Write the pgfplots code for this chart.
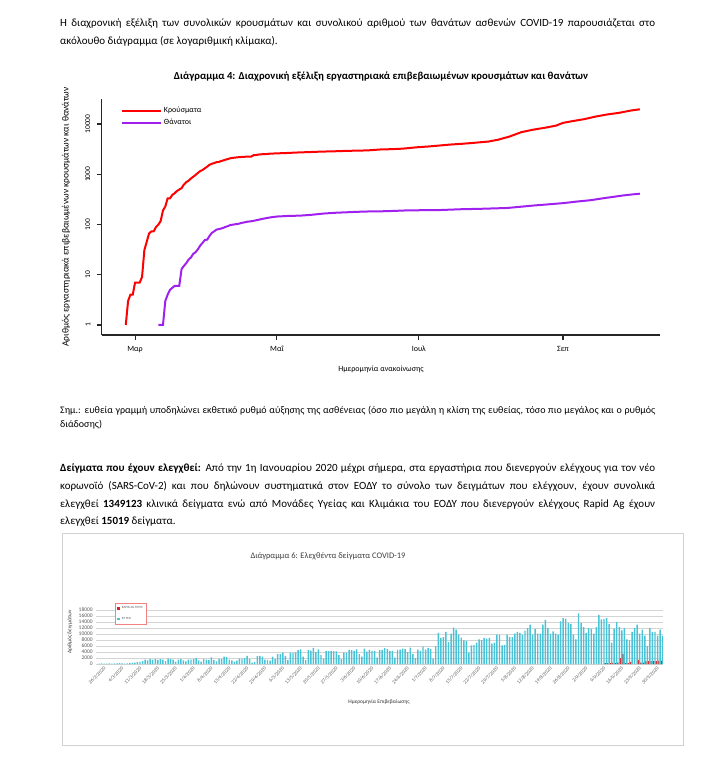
\documentclass[border=0pt]{standalone}
\usepackage{fontspec}
\setmainfont{Carlito}
\usepackage{pgfplots}
\pgfplotsset{compat=1.18}
\definecolor{rpurple}{HTML}{A020F0}
\definecolor{rred}{HTML}{FF0000}
\definecolor{xlcyan}{RGB}{75,195,215}
\definecolor{xlred}{RGB}{225,30,30}
\definecolor{xltext}{HTML}{595959}
\definecolor{legbord}{RGB}{240,130,130}
\begin{document}
\begin{tikzpicture}
\useasboundingbox (0pt,0pt) rectangle (717pt,-761pt);
% paragraph 1
\node[anchor=base west, inner sep=0] at (60pt,-26pt) {\fontsize{11}{13}\selectfont\makebox[595pt][s]{Η διαχρονική εξέλιξη των συνολικών κρουσμάτων και συνολικού αριθμού των θανάτων ασθενών COVID-19 παρουσιάζεται στο}};
\node[anchor=base west, inner sep=0] at (60pt,-44pt) {\fontsize{11}{13}\selectfont ακόλουθο διάγραμμα (σε λογαριθμική κλίμακα).};
% chart 1 title
\node[anchor=center, inner sep=0] at (381pt,-77pt) {\fontsize{10.7}{12}\selectfont\bfseries Διάγραμμα 4: Διαχρονική εξέλιξη εργαστηριακά επιβεβαιωμένων κρουσμάτων και θανάτων};
% chart 1
\begin{axis}[at={(101.8pt,-335pt)}, anchor=south west, width=558pt, height=236pt, scale only axis,
  xmin=-14.3, xmax=225.6, ymode=log, ymin=0.632, ymax=31400,
  axis x line*=bottom, axis y line*=left,
  axis line style={black!85, line width=1.2pt},
  tick style={black!85, line width=1.1pt}, tick align=outside, major tick length=5pt,
  minor tick num=0, yminorticks=false,
  xtick={0,61,122,184}, xticklabels={Μαρ,Μαΐ,Ιουλ,Σεπ},
  ytick={1,10,100,1000,10000}, yticklabels={1,10,100,1000,10000},
  yticklabel style={rotate=90, anchor=south, font=\fontsize{7.5}{9}\selectfont},
  yticklabel shift=3pt, xticklabel shift=2.5pt,
  xticklabel style={font=\fontsize{8}{9}\selectfont},
  legend style={at={(0.034,0.975)}, anchor=north west, draw=none, fill=none, font=\fontsize{8}{9}\selectfont, row sep=1pt, inner sep=0pt},
  legend cell align=left,
  legend image code/.code={\draw[#1, line width=2pt] (0pt,0pt) -- (39pt,0pt);},
]
\addplot[rred, line width=2pt, no marks] coordinates {
(-4,1)(-3,3)(-2,4)(-1,4)(0,7)(1,7)(2,7)(3,9)(4,31)(5,45)(6,66)(7,73)(8,73)(9,89)(10,99)(11,117)(12,190)(13,228)(14,331)(15,331)(16,387)(17,418)(18,464)(19,495)(20,530)(21,624)(22,695)(23,743)(24,821)(25,892)(26,966)(27,1061)(28,1156)(29,1212)(30,1314)(31,1415)(32,1544)(33,1613)(34,1673)(35,1735)(36,1755)(37,1832)(38,1884)(39,1955)(40,2011)(41,2081)(42,2114)(43,2145)(44,2170)(45,2192)(46,2207)(47,2224)(48,2235)(49,2235)(50,2245)(51,2401)(52,2408)(53,2463)(54,2490)(55,2506)(56,2517)(57,2534)(58,2566)(59,2576)(60,2591)(65,2642)(70,2710)(75,2760)(80,2819)(85,2853)(91,2917)(100,2980)(106,3121)(110,3148)(115,3227)(121,3432)(126,3562)(131,3732)(136,3910)(141,4048)(146,4227)(152,4477)(156,4855)(161,5623)(166,6858)(171,7684)(176,8381)(181,9280)(184,10524)(188,11386)(193,12452)(198,14041)(203,15481)(208,16627)(213,18475)(217,19613)
};
\addlegendentry{Κρούσματα}
\addplot[rpurple, line width=2pt, no marks] coordinates {
(10,1)(12,1)(13,3)(14,4)(15,5)(17,6)(19,6)(20,13)(21,15)(22,17)(23,20)(24,22)(25,26)(26,28)(27,32)(28,38)(29,43)(30,49)(31,50)(32,59)(33,68)(34,73)(35,79)(36,81)(37,83)(38,86)(39,90)(40,93)(41,98)(42,99)(43,101)(44,102)(45,105)(46,108)(47,110)(48,113)(50,116)(52,121)(55,130)(58,138)(61,144)(66,148)(71,150)(76,156)(81,165)(86,171)(91,175)(96,179)(101,182)(106,183)(111,186)(116,190)(122,192)(130,193)(140,201)(150,206)(160,213)(166,226)(172,240)(177,250)(184,266)(190,286)(196,305)(201,331)(206,357)(210,379)(213,393)(217,410)
};
\addlegendentry{Θάνατοι}
\end{axis}
\node[anchor=center, inner sep=0] at (381pt,-369pt) {\fontsize{8}{10}\selectfont Ημερομηνία ανακοίνωσης};
\node[anchor=center, inner sep=0, rotate=90] at (66pt,-217pt) {\fontsize{9.5}{11}\selectfont Αριθμός εργαστηριακά επιβεβαιωμένων κρουσμάτων και θανάτων};
% note
\node[anchor=base west, inner sep=0] at (60pt,-413.5pt) {\fontsize{10}{12}\selectfont\makebox[595pt][s]{Σημ.: ευθεία γραμμή υποδηλώνει εκθετικό ρυθμό αύξησης της ασθένειας (όσο πιο μεγάλη η κλίση της ευθείας, τόσο πιο μεγάλος και ο ρυθμός}};
\node[anchor=base west, inner sep=0] at (60pt,-427.5pt) {\fontsize{10}{12}\selectfont διάδοσης)};
% paragraph 2
\node[anchor=base west, inner sep=0] at (60pt,-471pt) {\fontsize{11}{13}\selectfont\makebox[595pt][s]{\textbf{Δείγματα που έχουν ελεγχθεί:} Από την 1η Ιανουαρίου 2020 μέχρι σήμερα, στα εργαστήρια που διενεργούν ελέγχους για τον νέο}};
\node[anchor=base west, inner sep=0] at (60pt,-489pt) {\fontsize{11}{13}\selectfont\makebox[595pt][s]{κορωνοϊό (SARS-CoV-2) και που δηλώνουν συστηματικά στον ΕΟΔΥ το σύνολο των δειγμάτων που ελέγχουν, έχουν συνολικά}};
\node[anchor=base west, inner sep=0] at (60pt,-507pt) {\fontsize{11}{13}\selectfont\makebox[595pt][s]{ελεγχθεί \textbf{1349123} κλινικά δείγματα ενώ από Μονάδες Υγείας και Κλιμάκια του ΕΟΔΥ που διενεργούν ελέγχους Rapid Ag έχουν}};
\node[anchor=base west, inner sep=0] at (60pt,-524.5pt) {\fontsize{11}{13}\selectfont ελεγχθεί \textbf{15019} δείγματα.};
% chart 2 frame
\draw[black!18, line width=0.8pt] (62pt,-533pt) rectangle (683pt,-745pt);
\node[anchor=center, inner sep=0, text=black!75] at (328pt,-556pt) {\fontsize{8.5}{10}\selectfont Διάγραμμα 6: Ελεχθέντα δείγματα COVID-19};
\begin{axis}[at={(96.2pt,-664pt)}, anchor=south west, width=567pt, height=54pt, scale only axis,
  xmin=-0.9, xmax=221.5, ymin=0, ymax=18000,
  scaled y ticks=false,
  axis line style={draw=none}, major tick length=0pt,
  ymajorgrids, grid style={black!17, line width=0.7pt},
  ytick={0,2000,4000,6000,8000,10000,12000,14000,16000,18000},
  yticklabels={0,2000,4000,6000,8000,10000,12000,14000,16000,18000},
  yticklabel style={font=\fontsize{5.5}{6}\selectfont, text=xltext},
  xtick={0,7,...,217},
  xticklabels={26/2/2020,4/3/2020,11/3/2020,18/3/2020,25/3/2020,1/4/2020,8/4/2020,15/4/2020,22/4/2020,29/4/2020,6/5/2020,13/5/2020,20/5/2020,27/5/2020,3/6/2020,10/6/2020,17/6/2020,24/6/2020,1/7/2020,8/7/2020,15/7/2020,22/7/2020,29/7/2020,5/8/2020,12/8/2020,19/8/2020,26/8/2020,2/9/2020,9/9/2020,16/9/2020,23/9/2020,30/9/2020},
  xticklabel style={rotate=45, anchor=north east, font=\fontsize{5}{5.5}\selectfont, text=xltext, inner sep=1pt, xshift=3pt, yshift=-4pt},
  ybar=0pt, bar width=1.45pt,
  legend style={at={(0.033,1.13)}, anchor=north west, draw=legbord, line width=0.6pt, fill=white, font=\fontsize{3.2}{4}\selectfont, text=xltext, row sep=3pt, inner xsep=2pt, inner ysep=1.5pt},
  legend cell align=left,
  legend image code/.code={\fill[#1] (0pt,-1.3pt) rectangle (2.6pt,1.3pt);},
]
\addplot[fill=xlred, draw=none] coordinates {
(199,300)(200,300)(201,300)(202,350)(203,400)(204,500)(205,2000)(206,3300)(207,300)(208,300)(209,750)(212,1300)(213,500)(214,500)(215,900)(216,1000)(217,1000)(218,1000)(219,1000)(220,1100)(221,1100)
};
\addlegendentry{RAPID AG TESTS}
\addplot[fill=xlcyan, draw=none] coordinates {
(0,150)(1,200)(2,120)(3,100)(4,180)(5,150)(6,200)(7,250)(8,300)(9,200)(10,150)(11,250)(12,300)(13,350)
(14,500)(15,600)(16,700)(17,1000)(18,1500)(19,1200)(20,1600)
(21,1500)(22,1600)(23,1400)(24,1600)(25,1500)(26,1000)(27,1800)
(28,1700)(29,1500)(30,800)(31,1500)(32,1600)(33,1200)(34,900)
(35,1500)(36,1500)(37,1600)(38,2000)(39,1200)(40,800)(41,1600)
(42,1500)(43,1400)(44,2200)(45,1300)(46,900)(47,1700)(48,1600)
(49,2500)(50,2300)(51,1500)(52,1200)(53,800)
(54,1100)(55,1800)(56,1700)(57,2000)(58,2700)(59,1600)(60,500)(61,700)(62,2600)(63,2700)(64,2500)(65,1500)(66,1300)(67,1100)(68,2500)(69,1600)(70,3300)(71,3300)(72,3800)(73,2700)(74,1300)(75,3800)(76,3700)(77,3900)(78,4600)(79,4900)(80,2500)(81,1300)(82,4600)(83,4500)(84,5400)(85,4000)(86,4900)(87,3000)(88,1800)(89,4400)(90,4300)(91,4400)(92,4300)(93,4200)(94,3000)(95,1600)(96,3800)(97,3700)(98,4700)(99,4600)(100,4400)(101,4900)(102,3300)(103,2500)(104,5100)(105,4100)(106,4700)(107,4400)(108,4400)
(109,2100)(110,4700)(111,4700)(112,5300)(113,5000)(114,4400)(115,4400)(116,2100)(117,4800)(118,4800)(119,5100)(120,5000)(121,4000)(122,5500)(123,3300)(124,2000)(125,4800)(126,4400)(127,5800)(128,4800)(129,5400)(130,5000)(131,1800)(132,6000)(133,10400)(134,8700)(135,9000)(136,10700)(137,7300)(138,10100)(139,12100)(140,11500)(141,9800)(142,8800)(143,7900)(144,7700)(145,3800)(146,6200)(147,6300)(148,7100)(149,8200)(150,8000)(151,8700)(152,8500)(153,8700)(154,6800)(155,7100)(156,9800)(157,9700)(158,6200)(159,6400)(160,9800)(161,9000)(162,9000)(163,10100)
(164,10700)(165,10400)(166,9800)(167,11100)(168,12000)(169,13100)(170,9800)(171,11700)(172,10100)(173,10100)(174,13100)(175,14700)(176,12000)(177,10100)(178,10900)(179,10100)(180,9800)(181,14200)(182,15300)(183,15100)(184,13600)(185,13400)(186,9800)(187,8200)(188,16900)(189,13600)(190,12300)(191,10400)(192,12000)(193,11800)(194,10100)(195,12300)(196,16400)(197,14900)(198,15000)(199,15300)(200,13400)(201,7100)(202,11800)(203,14000)(204,12300)(205,11200)(206,12000)(207,8200)(208,7900)(209,10700)(210,12000)(211,13100)(212,10100)(213,11500)(214,9500)(215,6000)(216,12000)(217,10700)(218,10700)(219,9500)(220,11500)(221,9500)
};
\addlegendentry{RT PCR}
\end{axis}
\node[anchor=center, inner sep=0, rotate=90, text=black!80] at (70pt,-632pt) {\fontsize{5.5}{6}\selectfont Αριθμός δειγμάτων};
\node[anchor=center, inner sep=0, text=black!80] at (379pt,-702pt) {\fontsize{5.5}{6}\selectfont Ημερομηνία Επιβεβαίωσης};
\end{tikzpicture}
\end{document}
